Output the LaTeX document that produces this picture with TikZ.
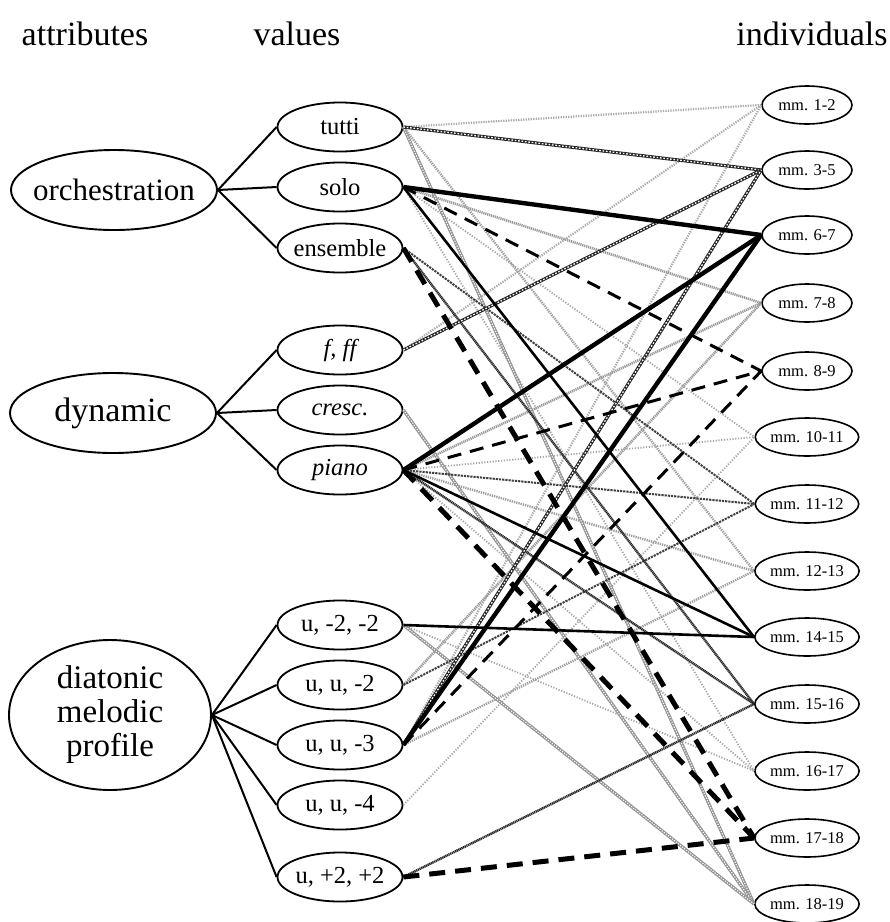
\documentclass[tikz,border=0pt]{standalone}
\usepackage{fontspec}
\setmainfont{Liberation Serif}
\usetikzlibrary{shapes.geometric}
\begin{document}
\begin{tikzpicture}[x=1pt,y=-1pt,
  head/.style={anchor=base,font=\fontsize{34}{36}\selectfont,inner sep=0pt},
  attr/.style={ellipse,draw,line width=1.9pt,minimum width=206pt,minimum height=80pt,inner ysep=0pt,inner xsep=-25pt,align=center,font=\fontsize{31}{33}\selectfont},
  val/.style={ellipse,draw,line width=1.8pt,minimum width=125pt,minimum height=49pt,inner ysep=0pt,inner xsep=-6pt,font=\fontsize{24.5}{26}\selectfont},
  ind/.style={ellipse,draw,line width=1.6pt,minimum width=90pt,minimum height=38pt,inner sep=0pt,font=\fontsize{16.5}{18}\selectfont},
  tree/.style={line width=2pt,black},
  lA/.style={draw=gray!65,line width=2.2pt,dash pattern=on 1.3pt off 1.2pt},
  lB/.style={draw=black!85,line width=3.2pt,postaction={draw=white,line width=1.3pt,dash pattern=on 1.6pt off 1.8pt}},
  lC/.style={draw=black,line width=4.4pt},
  lD/.style={draw=gray!80,line width=2.6pt,dash pattern=on 1.2pt off 0.8pt},
  lE/.style={draw=black,line width=3pt,dash pattern=on 14pt off 9pt},
  lF/.style={draw=gray!70,line width=1.8pt,dash pattern=on 1.2pt off 1.6pt},
  lG/.style={draw=black!75,line width=2pt,dash pattern=on 2.2pt off 1pt},
  lH/.style={draw=gray!75,line width=2.4pt,dash pattern=on 1.3pt off 1pt},
  lI/.style={draw=black,line width=2.6pt},
  lJ/.style={draw=black!85,line width=2.4pt,dash pattern=on 1.2pt off 0.6pt},
  lK/.style={draw=gray!70,line width=1.8pt,dash pattern=on 1.2pt off 1.6pt},
  lL/.style={draw=black,line width=5pt,dash pattern=on 16pt off 10pt},
  lM/.style={draw=gray!85,line width=3.2pt,postaction={draw=white,line width=1.1pt,dash pattern=on 1.2pt off 1.4pt}}
]
\useasboundingbox[fill=white] (0,0) rectangle (890,922);
% headers
\node[head] (h1) at (85,45) {attributes};
\node[head] (h2) at (297,45) {values};
\node[head] (h3) at (812,45) {individuals};
% attributes
\node[attr] (orch) at (114,190) {orchestration};
\node[attr,font=\fontsize{34}{36}\selectfont] (dyn) at (113,413) {dynamic};
\node[attr,minimum width=202pt,minimum height=150pt,font=\fontsize{33}{34}\selectfont] (dmp) at (110,715) {diatonic\\melodic\\profile};
% values
\node[val] (tutti) at (340,127) {tutti};
\node[val] (solo) at (340,187) {solo};
\node[val] (ens) at (340,248) {ensemble};
\node[val] (ff) at (340,350) {\itshape f, ff};
\node[val] (cre) at (340,410) {\itshape cresc.};
\node[val] (pia) at (340,470) {\itshape piano};
\node[val] (ua) at (340,625) {u, -2, -2};
\node[val] (ub) at (340,685) {u, u, -2};
\node[val] (uc) at (340,745) {u, u, -3};
\node[val] (ud) at (340,805) {u, u, -4};
\node[val] (ue) at (340,877) {u, +2, +2};
% individuals
\node[ind] (m1) at (807,105) {mm. 1-2};
\node[ind] (m2) at (807,170) {mm. 3-5};
\node[ind] (m3) at (807,235) {mm. 6-7};
\node[ind] (m4) at (807,303) {mm. 7-8};
\node[ind] (m5) at (807,371) {mm. 8-9};
\node[ind] (m6) at (807,437) {mm. 10-11};
\node[ind] (m7) at (807,504) {mm. 11-12};
\node[ind] (m8) at (807,571) {mm. 12-13};
\node[ind] (m9) at (807,637) {mm. 14-15};
\node[ind] (m10) at (807,704) {mm. 15-16};
\node[ind] (m11) at (807,771) {mm. 16-17};
\node[ind] (m12) at (807,838) {mm. 17-18};
\node[ind] (m13) at (807,904) {mm. 18-19};
% attribute -> value
\foreach \v in {tutti,solo,ens} \draw[tree] (orch.east) -- (\v.west);
\foreach \v in {ff,cre,pia} \draw[tree] (dyn.east) -- (\v.west);
\foreach \v in {ua,ub,uc,ud,ue} \draw[tree] (dmp.east) -- (\v.west);
% value -> individual (light first)
\foreach \v in {tutti,ff,uc} \draw[lA] (\v.east) -- (m1.west);
\foreach \v in {solo,pia,ud} \draw[lF] (\v.east) -- (m6.west);
\foreach \v in {solo,pia,ua} \draw[lK] (\v.east) -- (m11.west);
\foreach \v in {solo,pia,ub} \draw[lD] (\v.east) -- (m4.west);
\foreach \v in {tutti,pia,uc} \draw[lH] (\v.east) -- (m8.west);
\foreach \v in {tutti,cre,ua} \draw[lM] (\v.east) -- (m13.west);
\foreach \v in {ens,pia,ub} \draw[lG] (\v.east) -- (m7.west);
\foreach \v in {ens,pia,ue} \draw[lJ] (\v.east) -- (m10.west);
\foreach \v in {tutti,ff,uc} \draw[lB] (\v.east) -- (m2.west);
\foreach \v in {solo,pia,ua} \draw[lI] (\v.east) -- (m9.west);
\foreach \v in {solo,pia,uc} \draw[lE] (\v.east) -- (m5.west);
\foreach \v in {ens,pia,ue} \draw[lL] (\v.east) -- (m12.west);
\foreach \v in {solo,pia,uc} \draw[lC] (\v.east) -- (m3.west);
\end{tikzpicture}
\end{document}
